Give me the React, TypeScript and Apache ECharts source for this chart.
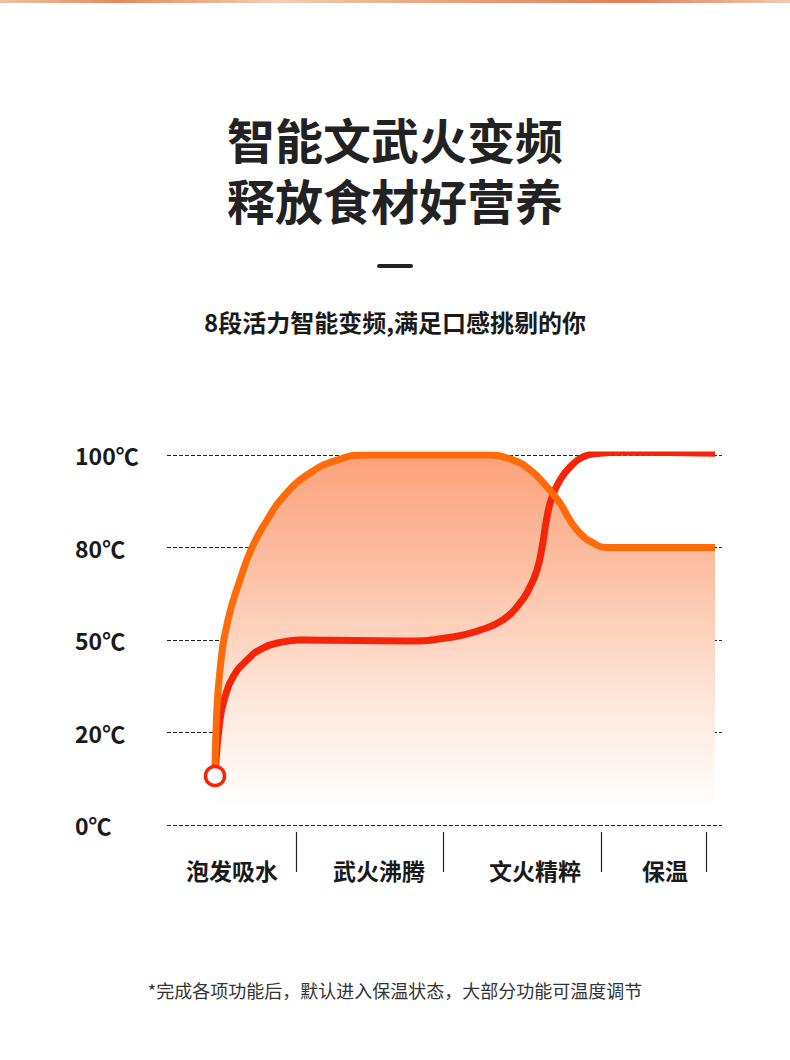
import React, { useEffect, useRef } from "react";
import * as echarts from "echarts";

// ---- data ----
const tempTicks = [0, 20, 50, 80, 100];
const phaseNames = ["泡发吸水", "武火沸腾", "文火精粹", "保温"];
const phaseBounds = [129, 276, 434, 539];
const phaseLabelX = [65, 212, 368, 498];

const orangeTime = [48, 49, 53, 61, 73, 85, 100, 116, 143, 173, 198, 253, 320, 346, 363, 380, 393, 403, 413, 426, 440, 548];
const orangeTemp = [10.6, 20.8, 40.3, 56.5, 69.5, 80, 85.9, 90.9, 96.1, 99.1, 100, 100, 100, 98.9, 96.8, 93.1, 89.6, 85.9, 83.1, 81, 80, 80];

const redTime = [48, 53, 58, 66, 80, 96, 116, 133, 240, 286, 313, 336, 353, 363, 370, 375, 380, 385, 393, 403, 416, 433, 453, 548];
const redTemp = [10.6, 24.1, 31.5, 38, 43.5, 47.4, 49.4, 50, 49.7, 51, 53.2, 56.5, 62, 67.2, 72.7, 80, 86.6, 90.9, 94.6, 97.4, 99.6, 100.4, 100.6, 100.4];

function toLevel(t: number): number {
  for (let i = 0; i < tempTicks.length - 1; i++) {
    const a = tempTicks[i], b = tempTicks[i + 1];
    if (t <= b || i === tempTicks.length - 2) return i + (t - a) / (b - a);
  }
  return 0;
}

const FONT = '"Noto Sans CJK SC", "Noto Sans", sans-serif';

export default function App() {
  const ref = useRef<HTMLDivElement>(null);
  useEffect(() => {
    if (!ref.current) return;
    const chart = echarts.init(ref.current, null, { renderer: "svg" });
    const orangeData = orangeTime.map((x, i) => [x, toLevel(orangeTemp[i])]);
    const redData = redTime.map((x, i) => [x, toLevel(redTemp[i])]);
    chart.setOption({
      animation: false,
      backgroundColor: "#ffffff",
      grid: { left: 167, right: 68, top: 455, bottom: 235 },
      xAxis: {
        type: "value",
        min: 0,
        max: 555,
        axisLine: { show: false },
        axisTick: { show: false },
        axisLabel: { show: false },
        splitLine: { show: false },
      },
      yAxis: {
        type: "value",
        min: 0,
        max: 4,
        interval: 1,
        axisLine: { show: false },
        axisTick: { show: false },
        axisLabel: {
          align: "left",
          margin: 92,
          color: "#1a1a1a",
          fontSize: 23,
          fontWeight: "bold",
          fontFamily: FONT,
          formatter: (v: number) => tempTicks[Math.round(v)] + "℃",
        },
        splitLine: { show: true, lineStyle: { color: "#222", width: 1, type: [4, 2] } },
      },
      series: [
        {
          type: "line",
          data: orangeData,
          smooth: 0.5,
          symbol: "none",
          lineStyle: { width: 0 },
          areaStyle: {
            color: new echarts.graphic.LinearGradient(0, 0, 0, 1, [
              { offset: 0, color: "#FBA27A" },
              { offset: 0.3, color: "#FCBFA2" },
              { offset: 0.65, color: "#FEE5D8" },
              { offset: 0.95, color: "#FFFFFF" },
            ]),
            opacity: 1,
          },
          z: 1,
        },
        {
          type: "line",
          data: redData,
          smooth: 0.5,
          symbol: "none",
          lineStyle: { width: 7, color: "#F5250A" },
          z: 2,
        },
        {
          type: "line",
          data: orangeData,
          smooth: 0.5,
          symbol: "none",
          lineStyle: { width: 7, color: "#FF6B08" },
          z: 3,
        },
        {
          type: "scatter",
          data: [redData[0]],
          symbol: "circle",
          symbolSize: 19,
          itemStyle: { color: "#ffffff", borderColor: "#F5250A", borderWidth: 3.5, opacity: 1 },
          z: 5,
        },
      ],
    });

    const y0 = chart.convertToPixel({ gridIndex: 0 }, [0, 0])[1];
    const graphics: any[] = [
      {
        type: "rect",
        shape: { x: 0, y: 0, width: 790, height: 3 },
        style: {
          fill: new echarts.graphic.LinearGradient(0, 0, 1, 0, [
            { offset: 0, color: "#EFC2A6" },
            { offset: 0.15, color: "#E38A5C" },
            { offset: 0.35, color: "#F3CDB5" },
            { offset: 0.55, color: "#E9A47E" },
            { offset: 0.8, color: "#E07F5B" },
            { offset: 1, color: "#F1C9B2" },
          ]),
        },
      },
      {
        type: "text",
        x: 395,
        y: 168.5,
        style: { text: "智能文武火变频\n释放食材好营养", fill: "#222", fontSize: 48, lineHeight: 61, fontWeight: "bold", fontFamily: FONT, align: "center", verticalAlign: "middle" },
      },
      {
        type: "rect",
        shape: { x: 377, y: 264, width: 36, height: 4, r: 2 },
        style: { fill: "#222" },
      },
      {
        type: "text",
        x: 395,
        y: 321,
        style: { text: "8段活力智能变频,满足口感挑剔的你", fill: "#1a1a1a", fontSize: 24, fontWeight: "bold", fontFamily: FONT, align: "center", verticalAlign: "middle" },
      },
      {
        type: "text",
        x: 395,
        y: 990,
        style: { text: "*完成各项功能后，默认进入保温状态，大部分功能可温度调节", fill: "#333", fontSize: 18, fontFamily: FONT, align: "center", verticalAlign: "middle" },
      },
    ];
    phaseBounds.forEach((b) => {
      const px = Math.round(chart.convertToPixel({ gridIndex: 0 }, [b, 0])[0]) + 0.5;
      graphics.push({
        type: "line",
        shape: { x1: px, y1: y0 + 7, x2: px, y2: y0 + 47 },
        style: { stroke: "#222", lineWidth: 1.2 },
      });
    });
    phaseNames.forEach((name, i) => {
      const px = chart.convertToPixel({ gridIndex: 0 }, [phaseLabelX[i], 0])[0];
      graphics.push({
        type: "text",
        x: px,
        y: y0 + 45,
        style: { text: name, fill: "#1a1a1a", fontSize: 23, fontWeight: "bold", fontFamily: FONT, align: "center", verticalAlign: "middle" },
      });
    });
    chart.setOption({ graphic: graphics });
    return () => chart.dispose();
  }, []);
  return <div ref={ref} style={{ position: "absolute", left: 0, top: 0, width: 790, height: 1060 }} />;
}
